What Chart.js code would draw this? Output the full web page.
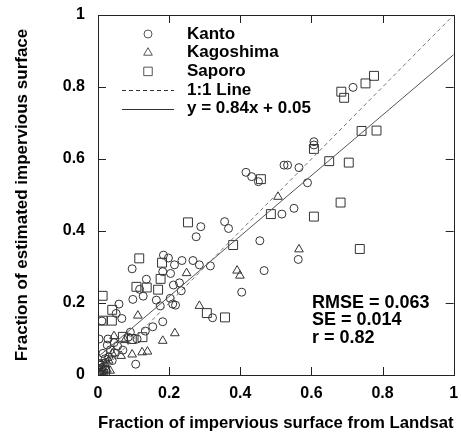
<!DOCTYPE html>
<html>
<head>
<meta charset="utf-8">
<script src="https://cdn.jsdelivr.net/npm/chart.js@4/dist/chart.umd.min.js"></script>
<style>
  body { margin: 0; background: #fff; }
  #wrap { width: 461px; height: 434px; }
</style>
</head>
<body>
<div id="wrap"><canvas id="scatter"></canvas></div>
<script>
// values
const kantoX = [0.717,0.607,0.607,0.523,0.533,0.565,0.416,0.432,0.451,0.589,0.551,0.517,0.356,0.367,0.289,0.276,0.455,0.563,0.467,0.404,0.316,0.285,0.267,0.236,0.215,0.198,0.184,0.096,0.136,0.204,0.182,0.229,0.212,0.234,0.117,0.127,0.098,0.203,0.210,0.218,0.164,0.175,0.059,0.051,0.067,0.011,0.322,0.182,0.154,0.133,0.091,0.003,0.028,0.026,0.014,0.070,0.047,0.106,0.005,0.010,0.020,0.030,0.015,0.040,0.085,0.110,0.035,0.055,0.022,0.008,0.045]
const kantoY = [0.799,0.639,0.648,0.583,0.583,0.576,0.563,0.551,0.537,0.534,0.463,0.447,0.426,0.407,0.412,0.384,0.373,0.321,0.290,0.230,0.303,0.306,0.318,0.318,0.306,0.325,0.333,0.295,0.266,0.282,0.287,0.256,0.250,0.234,0.238,0.219,0.210,0.213,0.197,0.194,0.208,0.192,0.197,0.171,0.157,0.150,0.159,0.148,0.134,0.122,0.119,0.100,0.100,0.083,0.060,0.069,0.062,0.030,0.030,0.020,0.045,0.050,0.010,0.040,0.105,0.100,0.070,0.080,0.035,0.005,0.090]

const kagoshimaX = [0.506,0.565,0.391,0.399,0.249,0.285,0.216,0.182,0.112,0.124,0.139,0.096,0.065,0.076,0.045,0.034,0.010,0.005,0.020,0.030,0.015,0.040,0.025]
const kagoshimaY = [0.495,0.349,0.290,0.276,0.283,0.192,0.116,0.095,0.165,0.063,0.065,0.057,0.053,0.097,0.108,0.012,0.020,0.005,0.030,0.040,0.000,0.060,0.015]

const saporoX = [0.684,0.692,0.752,0.776,0.741,0.783,0.607,0.650,0.705,0.682,0.607,0.736,0.458,0.486,0.380,0.253,0.116,0.180,0.176,0.108,0.137,0.169,0.013,0.040,0.013,0.039,0.306,0.357,0.125,0.070,0.095,0.003,0.008,0.015,0.005,0.020,0.010,0.000]
const saporoY = [0.787,0.770,0.810,0.831,0.678,0.679,0.628,0.594,0.590,0.479,0.440,0.350,0.544,0.447,0.361,0.424,0.324,0.312,0.267,0.245,0.243,0.237,0.220,0.181,0.151,0.151,0.172,0.160,0.105,0.106,0.100,0.005,0.015,0.003,0.025,0.010,0.030,0.012]

const fitSlope = 0.84
const fitIntercept = 0.05
const lineX = [0, 1]
const tickValues = [0.2, 0.4, 0.6, 0.8]
const statLines = ['RMSE = 0.063', 'SE = 0.014', 'r = 0.82']

const FONT = '"Liberation Sans", Arial, sans-serif'
const INK = '#222'

function pts(xs, ys) {
    return xs.map((x, i) => ({ x: x, y: ys[i] }))
}

function fmt(v) {
    return String(Number(v.toFixed(1)))
}

// inside tick marks on all four sides + frame
const frameTicks = {
    id: 'frameTicks',
    afterDraw(chart) {
        const { ctx, chartArea: a, scales } = chart
        ctx.save()
        ctx.strokeStyle = INK
        ctx.lineWidth = 1
        ctx.strokeRect(Math.round(a.left) + 0.5, Math.round(a.top) + 0.5,
            Math.round(a.right - a.left), Math.round(a.bottom - a.top))
        const len = 8
        ctx.beginPath()
        tickValues.forEach(v => {
            const px = Math.round(scales.x.getPixelForValue(v)) + 0.5
            ctx.moveTo(px, a.bottom); ctx.lineTo(px, a.bottom - len)
            ctx.moveTo(px, a.top); ctx.lineTo(px, a.top + len)
            const py = Math.round(scales.y.getPixelForValue(v)) + 0.5
            ctx.moveTo(a.left, py); ctx.lineTo(a.left + len, py)
            ctx.moveTo(a.right, py); ctx.lineTo(a.right - len, py)
        })
        ctx.stroke()
        ctx.restore()
    }
}

// legend and statistics drawn inside the plot
const insideText = {
    id: 'insideText',
    afterDraw(chart) {
        const { ctx, chartArea: a } = chart
        ctx.save()
        ctx.textBaseline = 'middle'
        const mx = a.left + 50, tx = a.left + 89
        const rows = [
            { label: 'Kanto', style: 'circle', r: 4 },
            { label: 'Kagoshima', style: 'triangle', r: 5 },
            { label: 'Saporo', style: 'rect', r: 6 },
            { label: '1:1 Line', dash: [4, 3] },
            { label: 'y = 0.84x + 0.05', dash: [] }
        ]
        rows.forEach((row, i) => {
            const y = a.top + 19 + i * 18.7
            ctx.strokeStyle = '#555'
            ctx.fillStyle = 'rgba(0,0,0,0)'
            ctx.lineWidth = 1
            if (row.style) {
                Chart.helpers.drawPoint(ctx, { pointStyle: row.style, radius: row.r, rotation: 0, borderWidth: 1 }, mx, y)
            } else {
                ctx.save()
                ctx.strokeStyle = '#333'
                ctx.setLineDash(row.dash)
                ctx.beginPath()
                ctx.moveTo(a.left + 24, Math.round(y) + 0.5)
                ctx.lineTo(a.left + 76, Math.round(y) + 0.5)
                ctx.stroke()
                ctx.restore()
            }
            ctx.font = 'bold 17px ' + FONT
            ctx.fillStyle = '#000'
            ctx.fillText(row.label, tx, y)
        })
        ctx.font = 'bold 18px ' + FONT
        ctx.fillStyle = '#000'
        statLines.forEach((s, i) => {
            ctx.fillText(s, a.left + 214, a.top + 288 + i * 17.5)
        })
        ctx.restore()
    }
}

const markerBase = {
    backgroundColor: 'rgba(0,0,0,0)',
    borderColor: '#333',
    borderWidth: 1,
    pointBorderWidth: 1
}

new Chart(document.getElementById('scatter'), {
    type: 'scatter',
    data: {
        datasets: [
            {
                type: 'line', label: '1:1 Line',
                data: pts(lineX, lineX),
                borderColor: '#777', borderWidth: 1, borderDash: [4, 3],
                pointRadius: 0, fill: false
            },
            {
                type: 'line', label: 'fit',
                data: pts(lineX, lineX.map(x => fitSlope * x + fitIntercept)),
                borderColor: '#555', borderWidth: 1,
                pointRadius: 0, fill: false
            },
            Object.assign({ label: 'Kanto', data: pts(kantoX, kantoY), pointStyle: 'circle', pointRadius: 4 }, markerBase),
            Object.assign({ label: 'Kagoshima', data: pts(kagoshimaX, kagoshimaY), pointStyle: 'triangle', pointRadius: 5 }, markerBase),
            Object.assign({ label: 'Saporo', data: pts(saporoX, saporoY), pointStyle: 'rect', pointRadius: 6.3 }, markerBase)
        ]
    },
    options: {
        responsive: true,
        maintainAspectRatio: false,
        animation: false,
        layout: { padding: { top: 15, right: 6, left: 0, bottom: 0 } },
        plugins: {
            legend: { display: false },
            tooltip: { enabled: false }
        },
        scales: {
            x: {
                type: 'linear', min: 0, max: 1,
                grid: { display: false, drawTicks: false },
                border: { display: false },
                ticks: { stepSize: 0.2, padding: 9, color: '#000', callback: fmt, font: { family: FONT, size: 16, weight: 'bold' } },
                title: { display: true, text: 'Fraction of impervious surface from Landsat', color: '#000', padding: { top: 5, bottom: 0 }, font: { family: FONT, size: 17, weight: 'bold' } },
                afterFit(scale) {
                    scale.height = 59
                    scale.paddingLeft = 0
                    scale.paddingRight = 0
                }
            },
            y: {
                type: 'linear', min: 0, max: 1,
                grid: { display: false, drawTicks: false },
                border: { display: false },
                ticks: { stepSize: 0.2, padding: 13, color: '#000', callback: fmt, font: { family: FONT, size: 16, weight: 'bold' } },
                title: { display: true, text: 'Fraction of estimated impervious surface', color: '#000', padding: { top: 12, bottom: 0 }, font: { family: FONT, size: 17, weight: 'bold' } },
                afterFit(scale) {
                    scale.width = 98
                    scale.paddingTop = 0
                    scale.paddingBottom = 0
                }
            }
        }
    },
    plugins: [frameTicks, insideText]
})
</script>
</body>
</html>
